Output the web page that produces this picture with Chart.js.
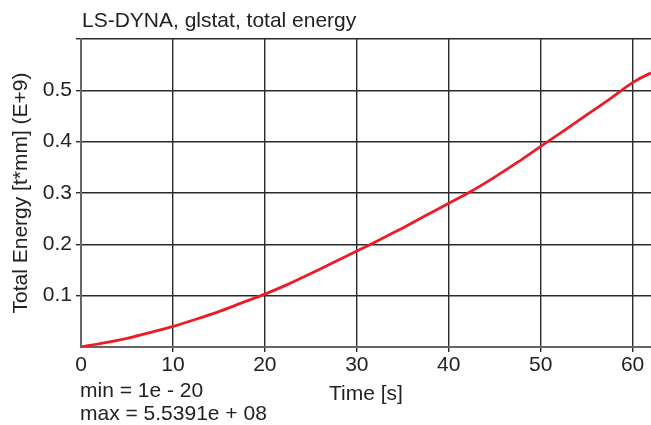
<!DOCTYPE html>
<html><head><meta charset="utf-8">
<script src="https://cdn.jsdelivr.net/npm/chart.js@4/dist/chart.umd.min.js"></script>
<style>html,body{margin:0;padding:0;background:#fff;overflow:hidden}#wrap{width:651px;height:425px;position:relative}</style>
</head><body><div id="wrap"><canvas id="c" width="651" height="425"></canvas></div>
<script>
const chartTitle = "LS-DYNA, glstat, total energy";
const xTitle = "Time [s]";
const yTitle = "Total Energy [t*mm] (E+9)";
const statLines = ["min = 1e - 20", "max = 5.5391e + 08"];

const timeValues   = [0, 2.5, 5, 7.5, 10, 12.5, 15, 17.5, 20, 22.5, 25, 27.5, 30, 32.5, 35, 37.5, 40, 42.5, 45, 47.5, 50, 52.5, 55, 57.5, 60, 62, 64, 65];
const energyValues = [0, 0.008, 0.017, 0.028, 0.040, 0.054, 0.069, 0.086, 0.103, 0.122, 0.143, 0.165, 0.187, 0.209, 0.232, 0.256, 0.280, 0.304, 0.331, 0.360, 0.391, 0.421, 0.452, 0.483, 0.515, 0.534, 0.548, 0.554];

const xTickValues = [0, 10, 20, 30, 40, 50, 60];
const xTickLabels = ["0", "10", "20", "30", "40", "50", "60"];
const yTickValues = [0, 0.1, 0.2, 0.3, 0.4, 0.5, 0.6];
const yTickLabels = ["", "0.1", "0.2", "0.3", "0.4", "0.5", ""];

const FONT = '"Liberation Sans", Arial, Helvetica, sans-serif';
const FS = 21;

const textPlugin = {
  id: 'textPlugin',
  afterDraw(chart) {
    const ctx = chart.ctx;
    const a = chart.chartArea;
    ctx.save();
    ctx.fillStyle = '#222';
    ctx.textAlign = 'left';
    ctx.textBaseline = 'alphabetic';
    ctx.font = FS + 'px ' + FONT;
    ctx.fillText(chartTitle, a.left + 1, 27);
    ctx.fillText(statLines[0], a.left - 1, 397);
    ctx.fillText(statLines[1], a.left - 1, 420);
    ctx.restore();
  }
};

const pts = timeValues.map((t, i) => ({x: t, y: energyValues[i]}));

new Chart(document.getElementById('c'), {
  type: 'line',
  data: { datasets: [{ data: pts, borderColor: '#ed1c24', borderWidth: 2.8, pointRadius: 0, tension: 0.3, fill: false }] },
  options: {
    responsive: false, animation: false, devicePixelRatio: 1,
    layout: { padding: { top: 39, left: 0, right: 0, bottom: 0 } },
    plugins: { legend: { display: false }, tooltip: { enabled: false }, title: { display: false } },
    scales: {
      x: {
        type: 'linear', min: 0, max: 62,
        afterBuildTicks: s => { s.ticks = xTickValues.map(v => ({value: v})); },
        afterFit: s => { s.height = 78; },
        ticks: { color: '#222', font: { size: FS, family: FONT }, padding: 1, maxRotation: 0, autoSkip: false,
                 callback: (v, i) => xTickLabels[i] },
        grid: { color: c => (c.tick && c.tick.value === 0) ? 'rgba(0,0,0,0)' : '#2a2a2a', lineWidth: 1.4, tickLength: 5, drawTicks: true },
        border: { display: true, color: '#666', width: 2 },
        title: { display: true, text: xTitle, color: '#222', font: { size: FS, family: FONT }, padding: { top: 0, bottom: 18 } }
      },
      y: {
        type: 'linear', min: 0, max: 0.6,
        afterBuildTicks: s => { s.ticks = yTickValues.map(v => ({value: v})); },
        afterFit: s => { s.width = 81; },
        ticks: { color: '#222', font: { size: FS, family: FONT }, padding: 4, autoSkip: false,
                 callback: (v, i) => yTickLabels[i] },
        grid: { color: c => (c.tick && c.tick.value === 0) ? 'rgba(0,0,0,0)' : '#2a2a2a', lineWidth: 1.4, tickLength: 5, drawTicks: true },
        border: { display: true, color: '#666', width: 2 },
        title: { display: true, text: yTitle, color: '#222', font: { size: FS, family: FONT }, padding: { top: 9, bottom: 0 } }
      }
    }
  },
  plugins: [textPlugin]
});
</script>
</body></html>
